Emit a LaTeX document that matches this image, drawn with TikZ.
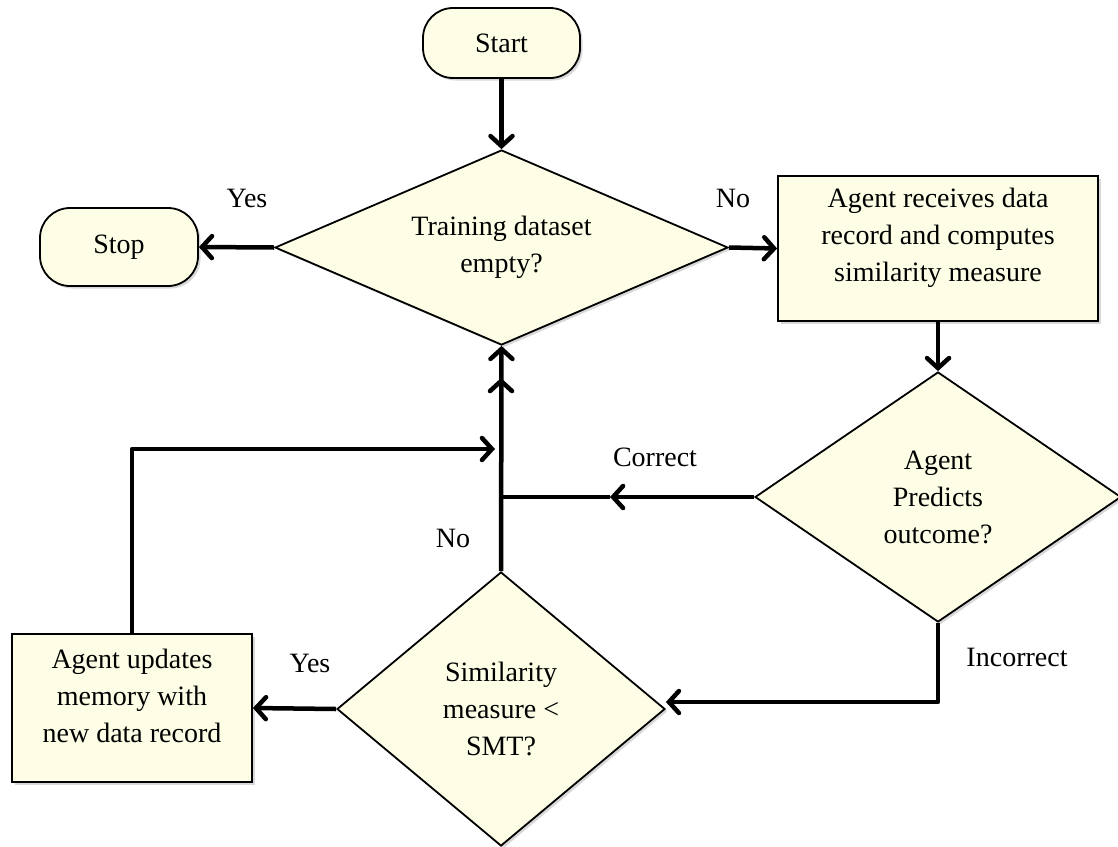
\documentclass[tikz,border=0pt]{standalone}
\usepackage{fontspec}
\setmainfont{Liberation Serif}
\usetikzlibrary{shapes.geometric,arrows.meta,shadows}
\definecolor{boxfill}{HTML}{FEFEE6}
\begin{document}
\begin{tikzpicture}[x=1pt,y=-1pt,
  font=\fontsize{28}{37}\selectfont,
  base/.style={draw=black, line width=1.8pt, fill=boxfill,
    drop shadow={shadow xshift=2.5pt, shadow yshift=-2.5pt, opacity=0.3},
    align=center, inner sep=0pt},
  term/.style={base, rectangle, rounded corners=30pt},
  proc/.style={base, rectangle},
  dec/.style={base, diamond},
  wire/.style={line width=4.5pt, line join=round},
  conn/.style={wire, -{Straight Barb[length=10pt,width=22pt,line cap=round]}},
  lbl/.style={inner sep=0pt}
]
\useasboundingbox (0,0) rectangle (1118,846);
\fill[white] (0,0) rectangle (1118,846);

% nodes
\node[term, minimum width=157pt, minimum height=70pt] (start) at (501.5,43) {Start};
\node[dec, aspect=2.32, minimum width=453pt, minimum height=195pt] (d1) at (501.5,247.5) {Training dataset\\empty?};
\node[term, minimum width=158pt, minimum height=78pt] (stop) at (119,247) {Stop};
\node[proc, minimum width=320pt, minimum height=145pt, text depth=28pt] (b1) at (938,248.5) {Agent receives data\\record and computes\\similarity measure};
\node[dec, aspect=1.45, minimum width=366pt, minimum height=250pt] (d2) at (938,497) {Agent\\Predicts\\outcome?};
\node[dec, aspect=1.2, minimum width=328pt, minimum height=274pt] (d3) at (501,709) {Similarity\\measure <\\SMT?};
\node[proc, minimum width=240pt, minimum height=148pt, text depth=24pt] (b2) at (132,708) {Agent updates\\memory with\\new data record};

% helper coordinates
\coordinate (j) at (501,497);
\coordinate (mc) at (610,497);
\coordinate (c2) at (501,378);
\coordinate (jt) at (495,449);
\coordinate (ic) at (938,702);

% connectors
\draw[conn] (start.south) -- (d1.north);
\draw[conn] (d1.west) -- (stop.east);
\draw[conn] (d1.east) -- (b1.west);
\draw[conn] (b1.south) -- (d2.north);
\draw[conn] (d2.west) -- (mc);
\draw[wire] (mc) -- (j);
\draw[conn] (d3.north) -- (d1.south);
\draw[conn] (j) -- (c2);
\draw[conn] (d2.south) -- (ic) -- (d3.east |- ic);
\draw[conn] (d3.west) -- (b2.east);
\draw[conn] (b2.north) |- (jt);

% labels
\node[lbl] (lyes1) at (247,198) {Yes};
\node[lbl] (lno1) at (733,198) {No};
\node[lbl] (lcor) at (655,457) {Correct};
\node[lbl] (lno2) at (453,538) {No};
\node[lbl] (linc) at (1017,657) {Incorrect};
\node[lbl] (lyes2) at (310,663) {Yes};
\end{tikzpicture}
\end{document}
